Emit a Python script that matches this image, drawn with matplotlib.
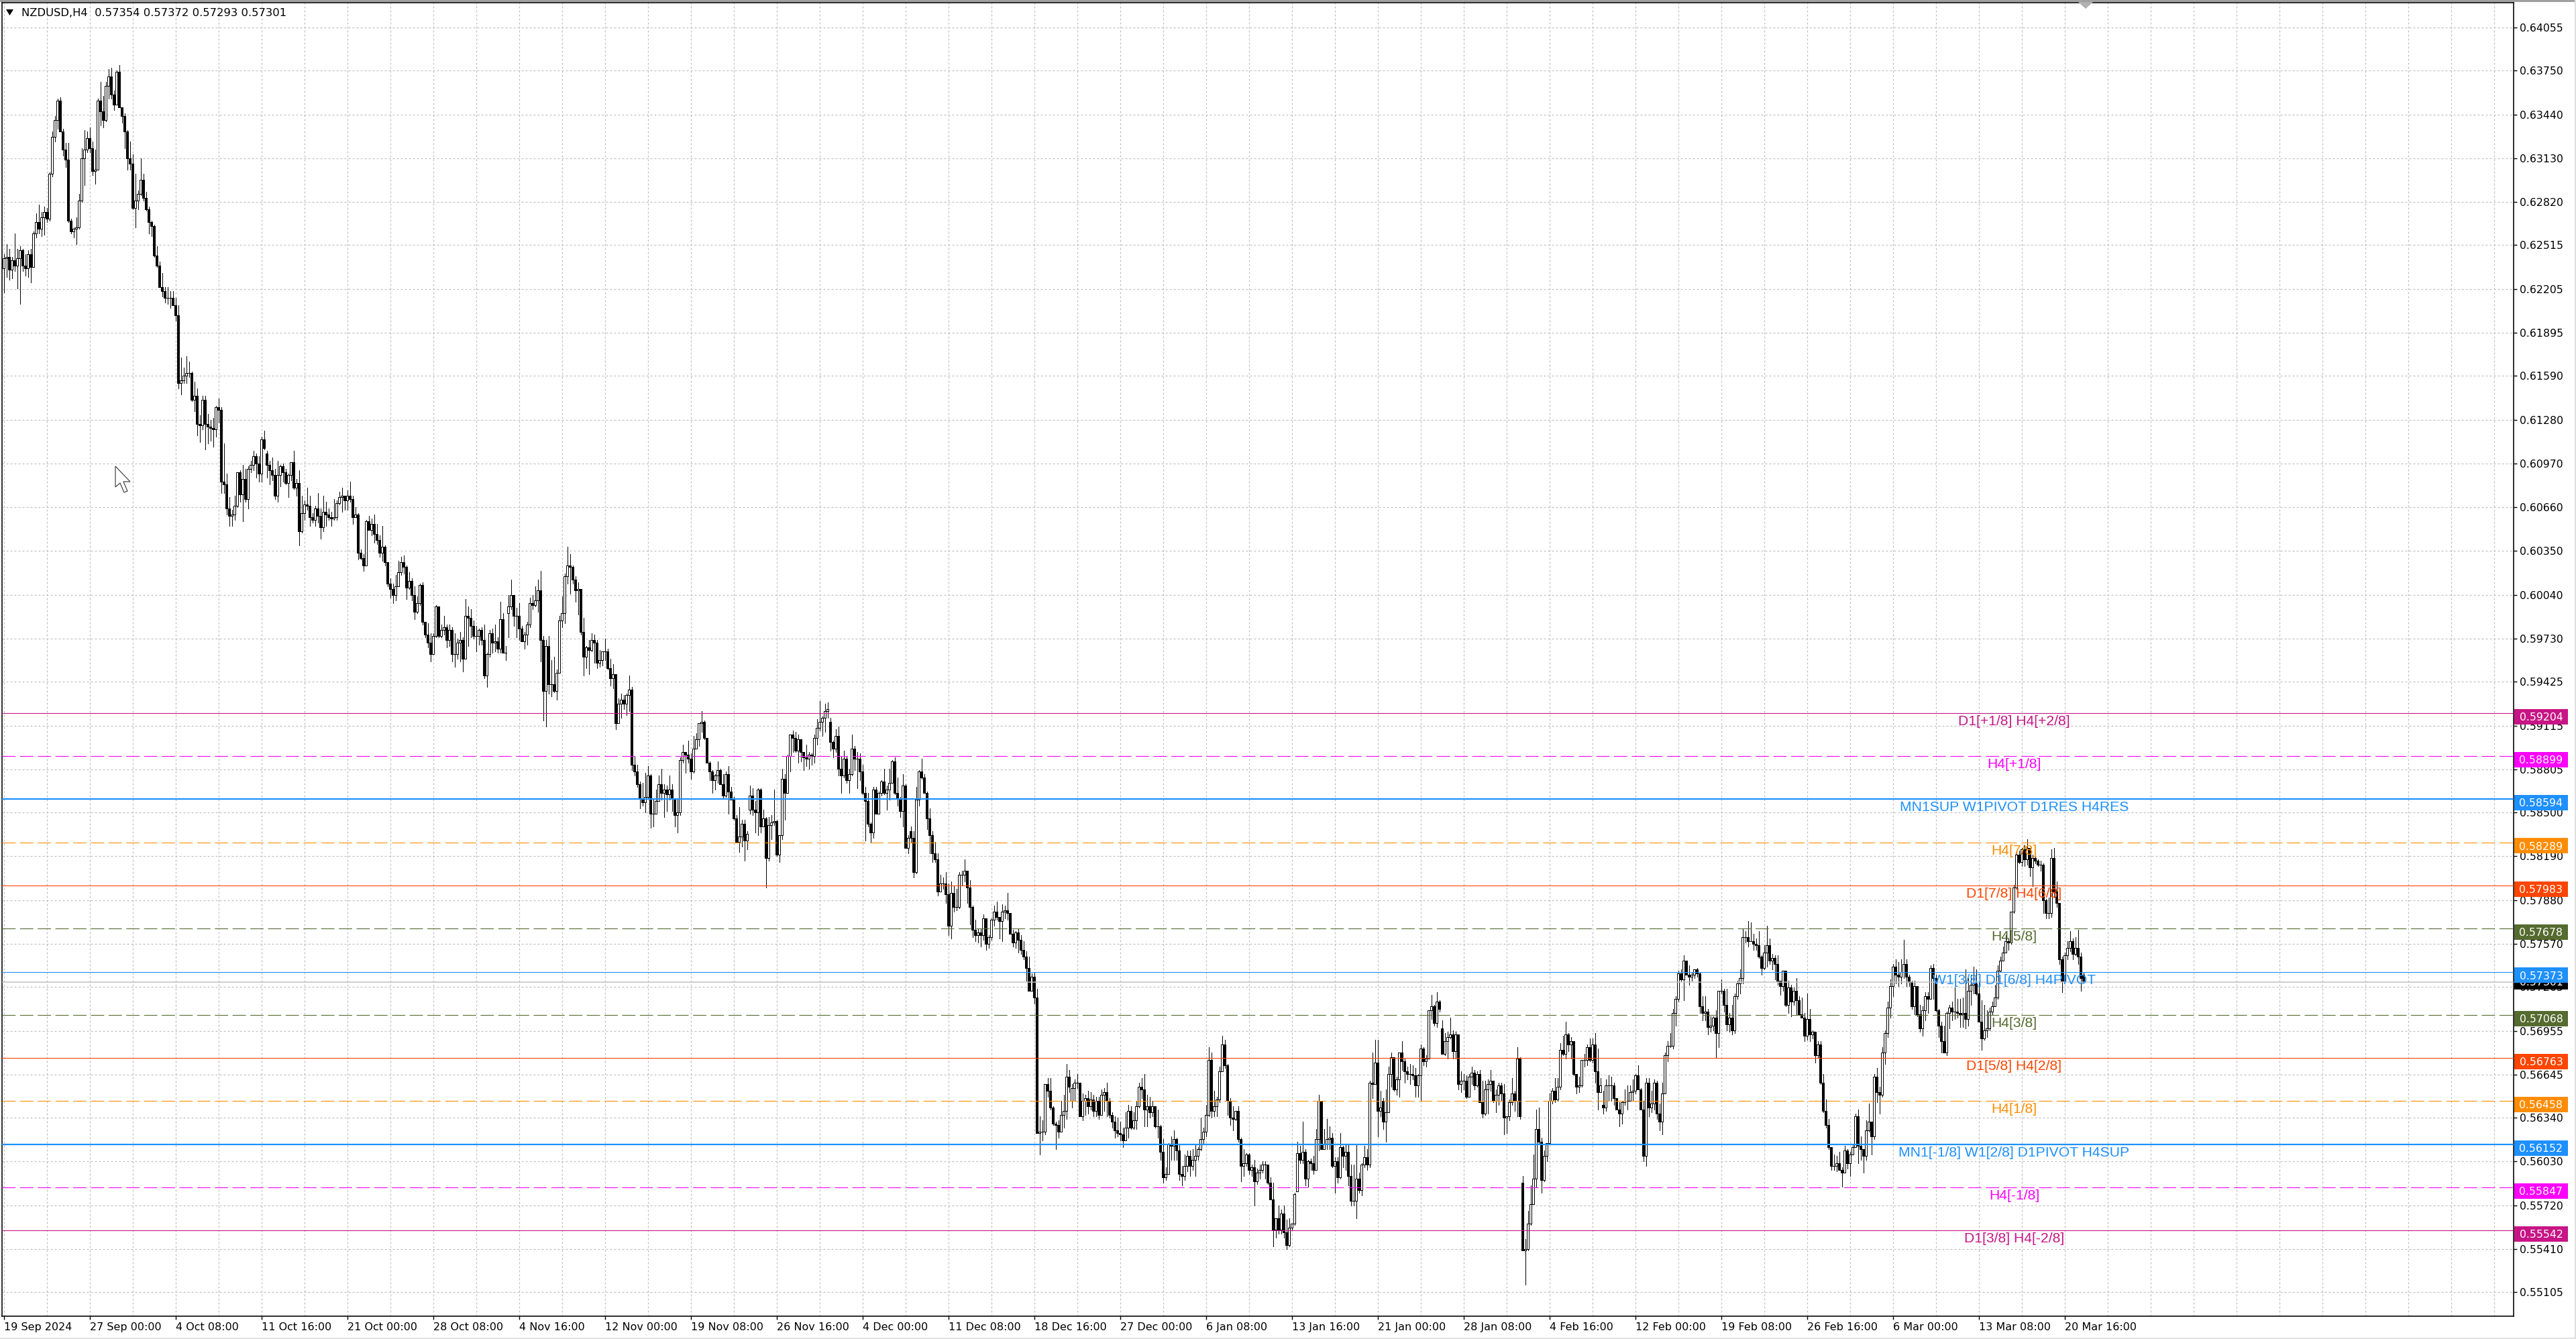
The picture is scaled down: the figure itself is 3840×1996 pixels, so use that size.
#!/usr/bin/env python3

# NZDUSD H4 candles with murrey style levels

import numpy as np
import matplotlib
matplotlib.use('Agg')
import matplotlib.pyplot as plt
from matplotlib.patches import Polygon, Rectangle

# bars as (high, low, close) in units of 0.0001, open is the previous close unless listed in gap_opens
bars_sep = [(6245,6218,6242),(6252,6229,6243),(6249,6227,6234),(6243,6228,6241),(6260,6233,6237),(6249,6221,6242),(6251,6210,6248),(6249,6233,6237),
(6245,6230,6235),(6248,6229,6245),(6249,6225,6236),(6261,6236,6260),(6274,6257,6268),(6280,6260,6263),(6275,6258,6271),(6279,6259,6275),
(6278,6268,6270),(6303,6269,6302),(6332,6300,6328),(6343,6325,6340),(6355,6334,6354),(6356,6332,6332),(6334,6315,6319),(6324,6307,6312),
(6324,6268,6269),(6270,6260,6261),(6264,6257,6263),(6271,6252,6264),(6288,6263,6283),(6320,6282,6313),(6333,6294,6319),(6332,6317,6327),
(6335,6317,6320),(6325,6301,6304),(6319,6295,6305),(6355,6305,6354),(6367,6336,6346),(6357,6335,6340),(6367,6339,6364),(6376,6355,6371),
(6377,6355,6358),(6361,6347,6351),(6375,6351,6374),(6379,6349,6349),(6348,6338,6343),(6345,6320,6332),(6333,6305,6313),(6325,6305,6309),
(6316,6277,6278),(6302,6264,6283),(6290,6277,6288),(6313,6287,6298),(6302,6283,6285),(6289,6276,6277),(6279,6260,6268),(6269,6258,6265),
(6266,6243,6244),(6251,6236,6237),(6240,6222,6222),(6232,6215,6219),(6222,6211,6214),(6222,6210,6214),(6219,6207,6214),(6219,6210,6209),
(6214,6198,6202)]
bars_oct = [(6209,6150,6154),(6172,6146,6156),(6165,6154,6159),(6173,6154,6161),(6169,6158,6161),(6162,6141,6142),(6155,6134,6145),(6150,6117,6125),
(6131,6112,6124),(6145,6121,6142),(6145,6107,6125),(6132,6111,6123),(6128,6113,6122),(6129,6109,6121),(6138,6116,6137),(6143,6126,6135),
(6137,6076,6084),(6111,6076,6082),(6090,6061,6065),(6073,6053,6060),(6064,6053,6061),(6074,6057,6067),(6091,6066,6091),(6092,6070,6075),
(6096,6056,6086),(6093,6070,6072),(6095,6065,6093),(6099,6091,6096),(6106,6092,6102),(6104,6087,6097),(6102,6084,6090),(6116,6084,6114),
(6120,6107,6108),(6106,6087,6096),(6099,6082,6092),(6101,6085,6089),(6093,6072,6074),(6099,6070,6089),(6096,6081,6095),(6097,6084,6091),
(6093,6082,6083),(6090,6073,6089),(6098,6085,6098),(6106,6079,6080),(6086,6074,6083),(6092,6039,6049),(6074,6048,6062),(6071,6057,6068),
(6080,6064,6067),(6074,6053,6059),(6062,6055,6057),(6067,6053,6065),(6076,6055,6060),(6065,6044,6052),(6074,6049,6063),(6070,6053,6061),
(6065,6057,6059),(6063,6053,6058),(6072,6057,6059),(6071,6057,6069),(6077,6068,6073),(6080,6063,6074),(6074,6064,6071),(6078,6064,6074),
(6084,6070,6072),(6074,6054,6059),(6066,6059,6061),(6062,6029,6034),(6036,6029,6030),(6033,6021,6025),(6057,6025,6056),(6060,6050,6050),
(6058,6046,6054),(6061,6041,6047),(6054,6040,6043),(6046,6031,6034),(6053,6028,6038),(6039,6025,6027),(6027,6010,6012),(6016,6002,6008),
(6012,5998,6004),(6018,6000,6010),(6028,6012,6020),(6031,6018,6027)]
bars_nov = [(6032,6019,6024),(6025,6001,6009),(6020,6008,6014),(6016,6000,6004),(6010,5987,5992),(6003,5991,5998),(6012,5997,6011),(6013,5983,5985),
(5985,5974,5976),(5984,5967,5970),(5977,5957,5962),(5977,5962,5975),(5997,5974,5996),(5996,5974,5975),(5983,5974,5979),(5989,5976,5981),
(5983,5967,5972),(5983,5968,5979),(5981,5957,5962),(5977,5953,5962),(5973,5959,5970),(5978,5957,5972),(5974,5950,5959),(6001,5959,5989),
(5996,5968,5988),(5994,5974,5982),(5986,5973,5975),(5982,5964,5975),(5980,5969,5979),(5981,5969,5972),(5983,5945,5947),(5963,5939,5962),
(5979,5960,5977),(5980,5963,5970),(5983,5964,5971),(5974,5963,5966),(5999,5963,5987),(5991,5963,5963),(5968,5958,5963),(6004,5974,5996),
(6015,5994,6004),(6004,5982,5989),(5995,5974,5989),(5998,5972,5980),(5982,5971,5971),(5978,5966,5976),(5985,5969,5983),(6002,5981,5998),
(6004,5994,5997),(6010,5996,6000),(6015,5992,6007),(6021,5957,5972),(5975,5915,5936),(5972,5911,5968),(5975,5934,5941),(5958,5932,5941),
(5960,5935,5936),(5951,5930,5949),(5989,5949,5986),(6003,5981,5991),(6019,5984,6017),(6038,6012,6025),(6033,6005,6024),(6025,6012,6015),
(6017,5999,6007),(6013,5990,6008),(6008,5976,5978),(5988,5947,5960),(5968,5952,5967),(5972,5948,5965),(5977,5964,5972),(5976,5956,5970),
(5972,5952,5956),(5965,5953,5958),(5964,5954,5964),(5973,5958,5964),(5966,5951,5952),(5959,5940,5945),(5955,5938,5948),(5948,5909,5913),
(5931,5913,5927),(5934,5917,5930),(5933,5923,5927),(5934,5919,5933),(5947,5922,5937)]
bars_dec_a = [(5939,5880,5884),(5890,5876,5879),(5884,5868,5870),(5872,5853,5860),(5871,5855,5857),(5878,5850,5861),(5883,5860,5876),(5877,5839,5849),
(5859,5840,5849),(5866,5849,5858),(5876,5858,5870),(5881,5859,5864),(5870,5847,5866),(5869,5851,5863),(5876,5859,5866),(5870,5851,5860),
(5860,5840,5848),(5859,5836,5850),(5889,5848,5887),(5898,5885,5893),(5893,5878,5891),(5901,5885,5888),(5892,5874,5879),(5904,5878,5895),
(5906,5895,5902),(5913,5897,5913),(5922,5907,5914),(5915,5902,5903),(5903,5885,5885),(5886,5873,5879),(5880,5864,5873),(5877,5866,5876),
(5886,5871,5880),(5881,5870,5870),(5877,5860,5862),(5879,5861,5877),(5883,5849,5865),(5868,5859,5859),(5861,5845,5846),(5848,5829,5829),
(5854,5822,5833),(5845,5826,5842),(5845,5816,5830),(5837,5824,5835),(5869,5849,5862),(5867,5848,5852),(5858,5836,5850),(5867,5834,5866),
(5867,5836,5840),(5852,5840,5846),(5847,5797,5818),(5847,5816,5841),(5848,5831,5843),(5866,5841,5844),(5845,5819,5820),(5834,5815,5834),
(5881,5831,5874),(5877,5845,5864),(5891,5864,5890),(5905,5879,5905),(5908,5893,5903),(5907,5893,5894),(5905,5885,5902),(5902,5886,5893),
(5893,5880,5889),(5898,5883,5888),(5893,5881,5891),(5892,5884,5890),(5905,5885,5903),(5916,5898,5910),(5929,5908,5914),(5918,5904,5917),
(5927,5907,5922),(5928,5917,5923),(5917,5894,5900),(5901,5889,5895),(5909,5893,5904),(5911,5876,5881),(5890,5864,5876),(5894,5875,5888),
(5890,5871,5873),(5881,5864,5877),(5905,5876,5895),(5897,5880,5888),(5893,5867,5888),(5892,5873,5879),(5884,5863,5864),(5868,5830,5858),
(5864,5840,5842),(5843,5829,5836),(5868,5832,5866),(5868,5849,5849),(5865,5849,5864),(5873,5862,5872),(5881,5863,5864),(5869,5852,5866),
(5881,5859,5871),(5887,5871,5886),(5889,5863,5864),(5875,5855,5860),(5861,5847,5851),(5877,5840,5869),(5870,5825,5825),(5834,5821,5832),
(5840,5829,5832),(5837,5804,5808),(5868,5807,5859),(5880,5855,5879),(5888,5874,5875),(5877,5864,5864),(5865,5838,5846),(5853,5821,5834)]
bars_dec_b = [(5837,5815,5821),(5829,5815,5817),(5821,5791,5794),(5806,5794,5800),(5804,5796,5800),(5808,5786,5792),(5800,5763,5770),(5801,5761,5793),
(5798,5780,5783),(5796,5781,5783),(5808,5782,5806),(5809,5799,5806),(5817,5801,5809),(5809,5786,5797),(5802,5771,5783),(5784,5762,5767),
(5774,5759,5763),(5768,5758,5765),(5768,5755,5763),(5778,5760,5775),(5775,5753,5757),(5763,5754,5762),(5775,5760,5774),(5784,5770,5780),
(5787,5774,5776),(5776,5761,5773),(5785,5759,5780),(5784,5775,5781),(5793,5774,5779),(5779,5764,5764),(5767,5755,5758),(5766,5754,5765),
(5768,5751,5760),(5763,5750,5753),(5759,5746,5748),(5752,5731,5740),(5748,5724,5724),(5736,5724,5734),(5737,5715,5719)]
bars_jan = [(5725,5623,5623),(5635,5608,5624),(5632,5618,5624),(5658,5622,5658),(5662,5649,5653),(5662,5640,5641),(5642,5629,5630),(5631,5612,5629),
(5632,5620,5624),(5646,5624,5636),(5650,5627,5639),(5672,5633,5663),(5668,5652,5656),(5658,5641,5655),(5661,5646,5659),(5665,5655,5659),
(5659,5635,5635),(5651,5632,5646),(5650,5636,5648),(5653,5637,5642),(5652,5640,5647),(5650,5635,5639),(5649,5635,5646),(5649,5633,5636),
(5654,5639,5650),(5655,5639,5652),(5659,5635,5646),(5648,5634,5636),(5638,5627,5631),(5635,5620,5625),(5634,5621,5623),(5631,5618,5622),
(5627,5613,5618),(5638,5618,5627),(5643,5620,5639),(5642,5626,5627),(5638,5626,5632),(5646,5626,5642),(5659,5641,5656),(5662,5648,5654),
(5665,5628,5640),(5650,5628,5642),(5649,5634,5638),(5646,5635,5642),(5642,5627,5628),(5640,5620,5628),(5629,5604,5610),(5619,5588,5592),
(5599,5590,5594),(5616,5597,5615),(5621,5604,5614),(5625,5604,5619),(5620,5604,5611),(5615,5590,5594),(5600,5586,5593),(5608,5590,5600),
(5611,5596,5607),(5611,5593,5600),(5612,5597,5604),(5615,5593,5607),(5613,5604,5612),(5634,5611,5619),(5627,5616,5624),(5643,5621,5636),
(5684,5635,5675),(5680,5634,5639),(5653,5635,5642),(5649,5635,5647),(5670,5645,5667),(5692,5667,5686),(5689,5669,5671),(5672,5636,5646),
(5648,5629,5634),(5642,5625,5633),(5639,5632,5639),(5642,5617,5619),(5620,5589,5600),(5612,5593,5602),(5609,5600,5608),(5609,5594,5597),
(5601,5593,5599),(5604,5572,5589),(5598,5587,5595),(5601,5591,5597),(5603,5595,5601),(5603,5591,5601),(5601,5587,5588),(5592,5576,5576),
(5588,5543,5555),(5563,5549,5563),(5572,5552,5555),(5569,5552,5566),(5572,5549,5553),(5562,5541,5544),(5563,5543,5556),(5559,5555,5559),
(5581,5558,5580),(5617,5582,5609),(5614,5602,5604),(5631,5602,5610),(5612,5586,5591),(5604,5585,5603),(5605,5597,5602),(5607,5594,5597),
(5626,5597,5619),(5650,5611,5646),(5646,5612,5612),(5626,5612,5615),(5633,5612,5619),(5628,5612,5620),(5623,5599,5600),(5606,5581,5603),
(5606,5588,5592),(5623,5591,5613),(5614,5599,5607),(5615,5597,5610),(5615,5586,5593),(5601,5572,5575),(5601,5572,5575),(5615,5563,5591),
(5595,5581,5583),(5602,5579,5601),(5614,5599,5606),(5612,5597,5601),(5660,5599,5659),(5680,5648,5658),(5689,5658,5673),(5689,5621,5639),
(5653,5635,5641),(5648,5626,5631),(5654,5617,5638),(5670,5638,5665),(5680,5656,5677),(5677,5653,5654)]
bars_feb_a = [(5663,5650,5661),(5680,5649,5680),(5688,5668,5674),(5676,5659,5667),(5670,5661,5665),(5672,5658,5665),(5671,5661,5664),(5669,5649,5657),
(5665,5649,5664),(5686,5646,5683),(5684,5671,5674),(5678,5670,5676),(5710,5676,5710),(5721,5704,5713),(5714,5699,5701),(5723,5698,5716),
(5717,5709,5711),(5703,5679,5679),(5694,5678,5688),(5695,5676,5691),(5705,5690,5693),(5696,5676,5681),(5695,5676,5693),(5691,5654,5658),
(5667,5652,5660),(5665,5654,5660),(5664,5648,5649),(5665,5649,5663),(5670,5658,5666),(5668,5654,5657),(5667,5656,5665),(5668,5645,5645),
(5660,5634,5637),(5660,5636,5654),(5661,5637,5658),(5668,5653,5660),(5660,5645,5646),(5654,5638,5650),(5659,5643,5657),(5659,5646,5651),
(5658,5622,5634),(5635,5623,5635),(5647,5632,5645),(5662,5643,5651),(5653,5639,5646),(5684,5635,5676),(5677,5633,5635),(5593,5540,5540),
(5548,5516,5541),(5568,5540,5559),(5586,5558,5573),(5608,5573,5591),(5640,5585,5626),(5641,5616,5617),(5620,5581,5590),(5611,5589,5607),
(5616,5603,5616),(5651,5615,5646),(5655,5644,5653),(5662,5645,5647),(5662,5646,5656),(5687,5654,5682),(5692,5678,5679),(5702,5676,5693),
(5694,5681,5686),(5691,5676,5688),(5688,5664,5665),(5665,5651,5656),(5663,5652,5657),(5675,5656,5675),(5679,5670,5675),(5686,5671,5684),
(5690,5674,5675),(5690,5673,5686),(5694,5659,5667),(5683,5640,5652),(5662,5652,5657),(5653,5637,5641),(5661,5639,5657),(5664,5646,5657),
(5663,5646,5657),(5659,5643,5648),(5647,5640,5640),(5645,5628,5637),(5646,5630,5645),(5654,5643,5646),(5657,5640,5646),(5657,5646,5652),
(5661,5646,5653),(5665,5651,5664),(5671,5654,5654),(5655,5640,5640),(5646,5603,5607),(5662,5600,5659),(5662,5635,5641),(5653,5638,5644),
(5661,5640,5659),(5660,5633,5637),(5644,5625,5631),(5659,5622,5651)]
bars_feb_b = [(5680,5651,5678),(5688,5674,5685),(5694,5684,5685),(5711,5683,5708),(5720,5699,5718),(5738,5716,5736),(5739,5731,5732),(5749,5717,5745),
(5745,5735,5735),(5742,5728,5734),(5737,5731,5735),(5739,5733,5739),(5740,5734,5736),(5737,5708,5713),(5720,5703,5708),(5720,5703,5709),
(5711,5693,5698),(5706,5695,5699),(5706,5696,5705),(5710,5677,5694),(5724,5684,5724),(5732,5722,5724),(5725,5709,5714),(5725,5696,5700),
(5708,5695,5705),(5714,5693,5696),(5722,5694,5720),(5731,5718,5729),(5739,5722,5733),(5768,5729,5762),(5766,5758,5762),(5773,5755,5759),
(5772,5759,5759),(5764,5753,5757),(5761,5753,5756),(5766,5747,5748),(5749,5735,5740),(5756,5739,5751),(5770,5741,5756),(5761,5743,5745),
(5750,5739,5747),(5749,5732,5743),(5749,5728,5731),(5730,5721,5727),(5738,5724,5738),(5738,5713,5714),(5731,5708,5726),(5728,5706,5716),
(5726,5714,5724),(5733,5707,5717),(5720,5707,5707),(5719,5705,5705),(5708,5688,5692),(5722,5689,5704),(5711,5688,5693),(5696,5690,5695),
(5694,5673,5678),(5688,5677,5686),(5688,5658,5659),(5665,5638,5639),(5647,5627,5629),(5633,5612,5613),(5613,5597,5600),(5608,5597,5600),
(5607,5596,5602),(5610,5597,5597),(5599,5585,5595),(5614,5599,5611),(5612,5598,5602),(5610,5593,5608),(5615,5608,5613),(5637,5613,5635),
(5640,5602,5614),(5621,5604,5612),(5612,5595,5607),(5632,5604,5625),(5644,5624,5631),(5631,5608,5621),(5665,5619,5663),(5669,5645,5652),
(5656,5637,5650),(5684,5649,5680),(5696,5672,5694),(5716,5691,5712),(5732,5705,5727)]
bars_mar = [(5743,5720,5741),(5746,5729,5735),(5744,5727,5734),(5746,5729,5737),(5760,5733,5743),(5746,5727,5734),(5735,5727,5730),(5731,5711,5713),
(5731,5707,5727),(5727,5706,5707),(5714,5695,5697),(5713,5692,5710),(5723,5703,5720),(5723,5708,5718),(5742,5718,5740),(5743,5718,5733),
(5735,5709,5710),(5711,5691,5699),(5702,5680,5688),(5699,5680,5680),(5709,5678,5708),(5714,5697,5712),(5716,5703,5709),(5726,5704,5709),
(5718,5705,5708),(5718,5698,5707),(5719,5698,5708),(5739,5697,5704),(5733,5699,5724),(5735,5714,5728),(5741,5722,5729),(5739,5721,5722),
(5730,5702,5702),(5717,5682,5690),(5714,5689,5696),(5710,5691,5697),(5712,5696,5709),(5716,5707,5713),(5728,5713,5719),(5742,5718,5738),
(5748,5737,5745),(5755,5746,5751),(5763,5753,5759),(5761,5753,5758),(5780,5757,5780),(5799,5779,5797),(5822,5796,5820),(5823,5814,5815),
(5825,5812,5824),(5827,5812,5817),(5831,5813,5825),(5825,5805,5811),(5820,5798,5818),(5819,5814,5816),(5817,5812,5813),(5816,5809,5813),
(5814,5779,5788),(5789,5775,5779),(5790,5775,5779),(5824,5776,5818),(5825,5790,5794),(5801,5783,5786),(5786,5743,5746),(5748,5723,5731),
(5751,5731,5749),(5759,5746,5754),(5766,5752,5759),(5761,5746,5750),(5762,5749,5754),(5767,5743,5748),(5751,5724,5733),(5737.2,5729.3,5730.1)]

# opens that do not follow the previous close (index of the bar: open)
gap_opens = {0: 6235, 98: 6104, 188: 5991, 278: 5852, 308: 5914, 338: 5837, 398: 5646, 482: 5582,
             514: 5646, 536: 5697, 566: 5588, 596: 5643, 775: 5735.4}

tick_prices = [0.55105, 0.55410, 0.55720, 0.56030, 0.56340, 0.56645, 0.56955, 0.57265, 0.57570, 0.57880,
               0.58190, 0.58500, 0.58805, 0.59115, 0.59425, 0.59730, 0.60040, 0.60350, 0.60660, 0.60970,
               0.61280, 0.61590, 0.61895, 0.62205, 0.62515, 0.62820, 0.63130, 0.63440, 0.63750, 0.64055]
date_labels = ['19 Sep 2024', '27 Sep 00:00', '4 Oct 08:00', '11 Oct 16:00', '21 Oct 00:00', '28 Oct 08:00',
               '4 Nov 16:00', '12 Nov 00:00', '19 Nov 08:00', '26 Nov 16:00', '4 Dec 00:00', '11 Dec 08:00',
               '18 Dec 16:00', '27 Dec 00:00', '6 Jan 08:00', '13 Jan 16:00', '21 Jan 00:00', '28 Jan 08:00',
               '4 Feb 16:00', '12 Feb 00:00', '19 Feb 08:00', '26 Feb 16:00', '6 Mar 00:00', '13 Mar 08:00',
               '20 Mar 16:00']

level_prices = [0.59204, 0.58899, 0.58594, 0.58289, 0.57983, 0.57678, 0.57373, 0.57068, 0.56763, 0.56458, 0.56152, 0.55847, 0.55542]
level_names = ['D1[+1/8] H4[+2/8]', 'H4[+1/8]', 'MN1SUP W1PIVOT D1RES H4RES', 'H4[7/8]', 'D1[7/8] H4[6/8]', 'H4[5/8]',
               'W1[3/8] D1[6/8] H4PIVOT', 'H4[3/8]', 'D1[5/8] H4[2/8]', 'H4[1/8]', 'MN1[-1/8] W1[2/8] D1PIVOT H4SUP',
               'H4[-1/8]', 'D1[3/8] H4[-2/8]']
level_colors = ['#C71585', '#FF00FF', '#1E90FF', '#FF8C00', '#FF4500', '#556B2F', '#1E90FF', '#556B2F', '#FF4500', '#FF8C00',
                '#1E90FF', '#FF00FF', '#C71585']
level_widths = [1, 1, 2, 1, 1, 1, 1, 1, 1, 1, 2, 1, 1]
level_dashed = [False, True, False, True, False, True, False, True, False, True, False, True, False]
last_price = 0.57301

# figure
W, H = 3840, 1996
DPI = 100
PX = 72 / DPI
fig = plt.figure(figsize=(W / DPI, H / DPI), dpi=DPI, facecolor='white')
left, right, top, bottom = 2.5, 3746.5, 4, 1961.7
ax = fig.add_axes([left / W, 1 - bottom / H, (right - left) / W, (bottom - top) / H])

# join bars
rows = np.array(bars_sep + bars_oct + bars_nov + bars_dec_a + bars_dec_b + bars_jan + bars_feb_a + bars_feb_b + bars_mar, dtype=float) / 10000
highs, lows, closes = rows[:, 0], rows[:, 1], rows[:, 2]
opens = np.r_[closes[0], closes[:-1]]
for k in gap_opens:
    opens[k] = gap_opens[k] / 10000
idx = np.arange(len(closes))

# candles
up = closes >= opens
ax.vlines(idx, lows, highs, color='black', lw=PX, zorder=2, antialiased=False)
ax.bar(idx[up], (closes - opens)[up], bottom=opens[up], width=0.72, color='white', edgecolor='black', lw=PX, zorder=2.2, antialiased=False)
ax.bar(idx[~up], (opens - closes)[~up], bottom=closes[~up], width=0.72, color='black', edgecolor='black', lw=PX, zorder=2.2, antialiased=False)

# axes, grid
ax.set_xlim(-0.8, -0.8 + (right - left) / 4)
ax.set_ylim(0.54937, 0.64231)
ax.yaxis.tick_right()
ax.set_yticks(tick_prices)
ax.set_yticklabels(['%.5f' % p for p in tick_prices])
ax.set_xticks(np.arange(len(date_labels)) * 32)
ax.set_xticklabels(date_labels, ha='left')
ax.set_xticks(np.arange(0, 59) * 16, minor=True)
ax.tick_params(axis='y', length=5 * PX, width=1.4 * PX, pad=4.5 * PX, labelsize=11.3, colors='black')
ax.tick_params(axis='x', which='major', length=5 * PX, width=1.4 * PX, pad=4 * PX, labelsize=11.5)
ax.tick_params(axis='x', which='minor', length=0)
ax.grid(True, which='both', color='#c0c0c0', lw=1.2 * PX, linestyle=(0, (2.5, 2.5)), zorder=1)
ax.set_axisbelow(True)
for s in ax.spines.values():
    s.set_linewidth(1.6 * PX)
    s.set_color('black')

# levels
for p, name, c, w, d in zip(level_prices, level_names, level_colors, level_widths, level_dashed):
    ls = (0, (18 / w, 6 / w)) if d else '-'
    ax.axhline(p, color=c, lw=w * 1.1 * PX, linestyle=ls, zorder=3)
    ax.annotate(name, (749.2, p), xytext=(0, -12.5 * PX), textcoords='offset points', ha='center', va='center',
                color=c, fontsize=15.2, family='Liberation Sans', zorder=4)
ax.axhline(last_price, color='#c0c0c0', lw=1.5 * PX, zorder=3)

# price badges on the scale
def badge(price, color, dy, z):
    y = (fig.transFigure.inverted().transform(ax.transData.transform((0, price))))[1]
    dy = dy / H
    fig.add_artist(Rectangle((3748 / W, y - dy - 11.5 / H), 80 / W, 23 / H, transform=fig.transFigure,
                             facecolor=color, edgecolor='none', zorder=z))
    fig.text(3788 / W, y - dy - 1.2 / H, '%.5f' % price, color='white', fontsize=11.3, ha='center', va='center', zorder=z + 0.1)

badge(last_price, 'black', 0, 5)
for p, c in zip(level_prices, level_colors):
    badge(p, c, 5.3, 6)

# header text
fig.text(32 / W, 1 - 19 / H, 'NZDUSD,H4  0.57354 0.57372 0.57293 0.57301', fontsize=11.8, va='center', ha='left', color='black')
fig.add_artist(Polygon([(9 / W, 1 - 14 / H), (20 / W, 1 - 14 / H), (14.5 / W, 1 - 23 / H)], transform=fig.transFigure, facecolor='black', edgecolor='none'))

# window edges, scroll mark and mouse arrow
fig.add_artist(Rectangle((0, 1 - 3 / H), 1, 3 / H, transform=fig.transFigure, facecolor='#a0a0a0', edgecolor='none'))
fig.add_artist(Rectangle((3838 / W, 0), 2 / W, 1, transform=fig.transFigure, facecolor='#e0e0e0', edgecolor='none'))
fig.add_artist(Rectangle((0, 0), 1, 2 / H, transform=fig.transFigure, facecolor='#e0e0e0', edgecolor='none'))
fig.add_artist(Polygon([(3098 / W, 1 - 3 / H), (3120 / W, 1 - 3 / H), (3109 / W, 1 - 13 / H)], transform=fig.transFigure, facecolor='#b0b0b0', edgecolor='none'))
arrow = [(172, 695), (172, 726), (179, 720), (185, 734), (190, 732), (184, 718), (194, 718)]
fig.add_artist(Polygon([(x / W, 1 - y / H) for x, y in arrow], transform=fig.transFigure, facecolor='white', edgecolor='#404040', lw=1.2 * PX))

fig.savefig('out.png', dpi=DPI)
